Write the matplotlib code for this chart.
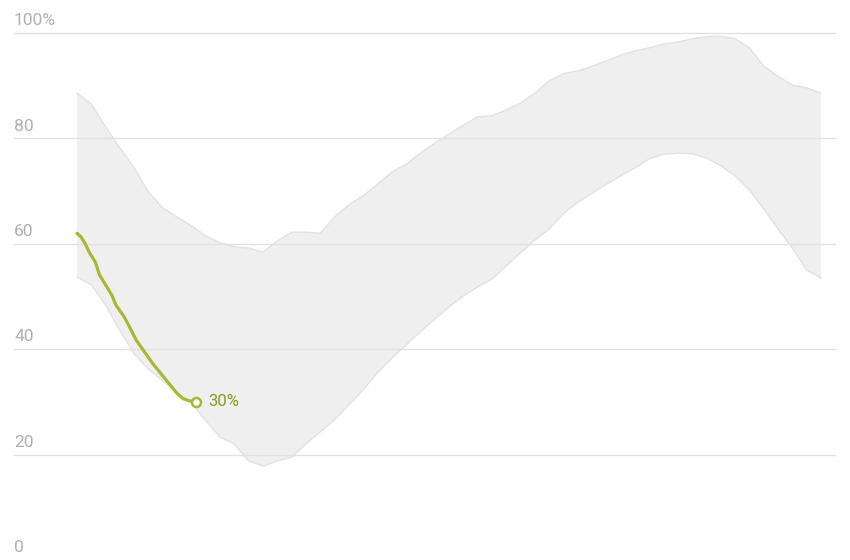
import numpy as np
import matplotlib
matplotlib.use("Agg")
import matplotlib.pyplot as plt

plt.rcParams['font.family'] = ['Roboto', 'DejaVu Sans']

# Band (range across years), sampled weekly (day of year)
band_days = list(range(0, 365, 7))
band_upper = [88.6, 86.5, 82.2, 78.2, 74.4, 69.8, 66.8, 65.1, 63.4, 61.5,
              60.2, 59.4, 59.2, 58.4, 60.5, 62.2, 62.2, 62.0, 65.1, 67.4,
              69.1, 71.3, 73.6, 75.1, 77.2, 79.1, 80.8, 82.5, 84.1, 84.3,
              85.4, 86.7, 88.6, 90.9, 92.3, 92.8, 93.7, 94.7, 95.8, 96.6,
              97.2, 97.9, 98.3, 98.9, 99.3, 99.4, 98.9, 97.2, 93.7, 91.8,
              90.1, 89.6, 88.6]
band_lower = [53.7, 52.2, 48.4, 43.5, 39.1, 36.2, 34.0, 31.7, 29.8, 26.4,
              23.3, 22.0, 18.8, 17.8, 18.8, 19.5, 22.0, 24.3, 26.6, 29.4,
              32.3, 35.5, 38.3, 40.8, 43.3, 45.7, 48.0, 50.1, 51.8, 53.3,
              55.8, 58.3, 60.7, 62.8, 65.7, 67.9, 69.6, 71.3, 72.9, 74.4,
              76.1, 77.0, 77.2, 77.1, 76.3, 74.8, 72.9, 70.2, 66.6, 62.8,
              59.2, 55.0, 53.5]

# Current year series
cur_days = [0, 2, 4, 6, 9, 11, 14, 17, 19, 23, 26, 29, 33, 37, 41, 45, 49,
            52, 55, 58]
cur_vals = [62.0, 61.3, 60.0, 58.4, 56.5, 54.1, 52.2, 50.3, 48.4, 46.2,
            44.0, 41.7, 39.5, 37.3, 35.4, 33.5, 31.6, 30.6, 30.2, 30.0]

y_ticks = [0, 20, 40, 60, 80, 100]
y_labels = ['0', '20', '40', '60', '80', '100%']

W, H = 850, 560
fig = plt.figure(figsize=(W / 100, H / 100), dpi=100)
left_px, right_px = 14, 835
top_px, bottom_px = 33, 560
ax = fig.add_axes([left_px / W, 1 - bottom_px / H,
                   (right_px - left_px) / W, (bottom_px - top_px) / H])

px_per_day = (821 - 77) / 364
ax.set_xlim(-(77 - left_px) / px_per_day, 364 + (right_px - 821) / px_per_day)
ax.set_ylim(0, 100)
ax.axis('off')

ax.fill_between(band_days, band_lower, band_upper, facecolor='#efefef',
                edgecolor='none', zorder=1)
ax.plot(band_days, band_upper, color='#e2e2e2', lw=1, zorder=2)
ax.plot(band_days, band_lower, color='#e2e2e2', lw=1, zorder=2)

for t, lab in zip(y_ticks, y_labels):
    if t > 0:
        ax.axhline(t, color='#e2e2e2', lw=1, zorder=3, clip_on=False)
    ax.annotate(lab, xy=(0, t), xycoords=('axes fraction', 'data'),
                xytext=(0, 3.5), textcoords='offset points',
                ha='left', va='bottom', fontsize=12.5, color='#b0b0b0')

ax.plot(cur_days, cur_vals, color='#a9b832', lw=2.3, zorder=5,
        solid_capstyle='round', solid_joinstyle='round')
ax.plot(cur_days[-1], cur_vals[-1], 'o', ms=6.5, mfc='white', mec='#a9b832',
        mew=1.8, zorder=6)
ax.annotate(f"{cur_vals[-1]:.0f}%", xy=(cur_days[-1], cur_vals[-1]),
            xytext=(9, 0), textcoords='offset points', ha='left', va='center',
            fontsize=12, color='#8a9a1c', zorder=6)

fig.savefig('out.png', dpi=100)
